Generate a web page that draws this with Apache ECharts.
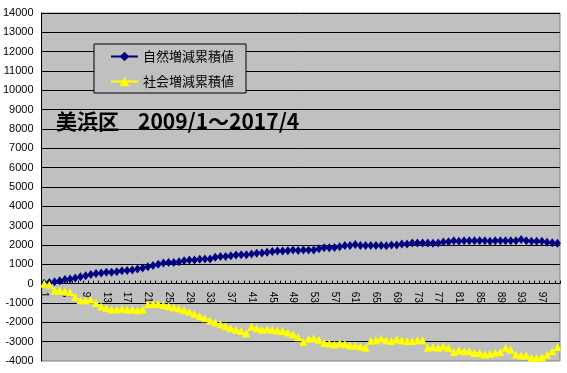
<!DOCTYPE html>
<html><head><meta charset="utf-8">
<script src="https://cdn.jsdelivr.net/npm/echarts@6/dist/echarts.min.js"></script>
<style>html,body{margin:0;padding:0;background:#fff}#c{width:567px;height:373px}</style>
</head><body><div id="c"></div>
<script>
const categories = ['1','2','3','4','5','6','7','8','9','10','11','12','13','14','15','16','17','18','19','20',
'21','22','23','24','25','26','27','28','29','30','31','32','33','34','35','36','37','38','39','40',
'41','42','43','44','45','46','47','48','49','50','51','52','53','54','55','56','57','58','59','60',
'61','62','63','64','65','66','67','68','69','70','71','72','73','74','75','76','77','78','79','80',
'81','82','83','84','85','86','87','88','89','90','91','92','93','94','95','96','97','98','99','100'];

const natural = [20,60,100,150,210,240,290,360,410,480,530,550,590,590,620,670,680,710,760,810,
880,940,1010,1070,1090,1090,1140,1190,1220,1220,1260,1280,1280,1360,1400,1410,1450,1480,1500,1500,
1540,1570,1590,1630,1660,1690,1690,1700,1740,1710,1740,1740,1740,1810,1860,1860,1870,1910,1980,1980,
2020,1980,1980,1980,1980,1970,1960,2000,2000,2050,2050,2100,2100,2100,2100,2090,2100,2150,2170,2220,
2190,2220,2220,2220,2220,2220,2190,2220,2220,2220,2220,2220,2280,2220,2190,2190,2190,2140,2120,2090];

const social = [0,-50,-350,-350,-400,-430,-690,-860,-860,-830,-1000,-1175,-1260,-1330,-1330,-1300,-1330,-1330,-1380,-1330,
-1070,-1050,-1050,-1100,-1170,-1230,-1290,-1360,-1450,-1560,-1680,-1790,-1900,-2000,-2100,-2200,-2300,-2380,-2450,-2570,
-2220,-2300,-2380,-2340,-2380,-2420,-2450,-2520,-2620,-2770,-3020,-2850,-2820,-2900,-3050,-3100,-3150,-3080,-3120,-3200,
-3200,-3250,-3310,-2950,-2930,-2830,-2930,-2970,-2880,-2930,-2970,-2970,-2930,-2930,-3310,-3280,-3310,-3240,-3310,-3540,
-3450,-3490,-3490,-3590,-3590,-3660,-3620,-3570,-3540,-3310,-3420,-3660,-3710,-3710,-3830,-3850,-3800,-3680,-3500,-3280];

const seriesNames = ['自然増減累積値', '社会増減累積値'];
const titleWard = '美浜区';
const titlePeriod = '2009/1～2017/4';
const yMin = -4000, yMax = 14000, yStep = 1000;

const W = 567, H = 373;
const gridTop = 13, gridBottom = 12;
const gridH = H - gridTop - gridBottom;
// move the category axis up to the zero line of the value scale
const zeroOffset = -((0 - yMin) / (yMax - yMin)) * gridH;

const chart = echarts.init(document.getElementById('c'), null, {renderer: 'canvas'});
const numFont = '"Liberation Sans", Arial, sans-serif';
const jpFont = '"Noto Sans CJK JP", sans-serif';
chart.setOption({
  animation: false,
  backgroundColor: '#ffffff',
  grid: {left: 41, right: 7, top: gridTop, bottom: gridBottom, show: true, backgroundColor: '#c0c0c0', borderColor: '#808080', borderWidth: 1},
  legend: {
    orient: 'vertical', left: 94, top: 44,
    data: seriesNames,
    itemWidth: 27, itemHeight: 12, itemGap: 12,
    padding: [6, 12, 5, 16],
    backgroundColor: '#c0c0c0', borderColor: '#000000', borderWidth: 1,
    textStyle: {fontFamily: jpFont, fontSize: 13, color: '#000'}
  },
  xAxis: {
    type: 'category', data: categories, boundaryGap: true, position: 'bottom', offset: zeroOffset,
    axisLine: {onZero: false, lineStyle: {color: '#000', width: 1}},
    axisTick: {show: true, interval: 0, inside: true, length: 3, lineStyle: {color: '#000'}},
    axisLabel: {interval: 3, rotate: -90, fontSize: 10, margin: 8, color: '#000', fontFamily: numFont},
    splitLine: {show: false}
  },
  yAxis: {
    type: 'value', min: yMin, max: yMax, interval: yStep,
    axisLine: {show: true, onZero: false, lineStyle: {color: '#000', width: 1}},
    axisTick: {show: false},
    axisLabel: {fontSize: 11, margin: 8, color: '#000', fontFamily: numFont, formatter: v => String(v)},
    splitLine: {show: true, showMinLine: false, lineStyle: {color: '#000', width: 1}}
  },
  graphic: [
    {type: 'text', left: 56, top: 111, z: 100, style: {text: titleWard, font: 'bold 21px "Noto Sans CJK JP", sans-serif', fill: '#000'}},
    {type: 'text', left: 138, top: 111, z: 100, style: {text: titlePeriod, font: 'bold 21px "Noto Sans CJK JP", sans-serif', fill: '#000'}}
  ],
  series: [
    {name: seriesNames[0], type: 'line', data: natural, symbol: 'diamond', symbolSize: [7, 9], showAllSymbol: true,
     itemStyle: {color: '#000080'}, lineStyle: {color: '#000080', width: 1}, z: 3},
    {name: seriesNames[1], type: 'line', data: social, symbol: 'triangle', symbolSize: 8, showAllSymbol: true,
     itemStyle: {color: '#ffff00'}, lineStyle: {color: '#ffff00', width: 1}, z: 4}
  ]
});
</script></body></html>
